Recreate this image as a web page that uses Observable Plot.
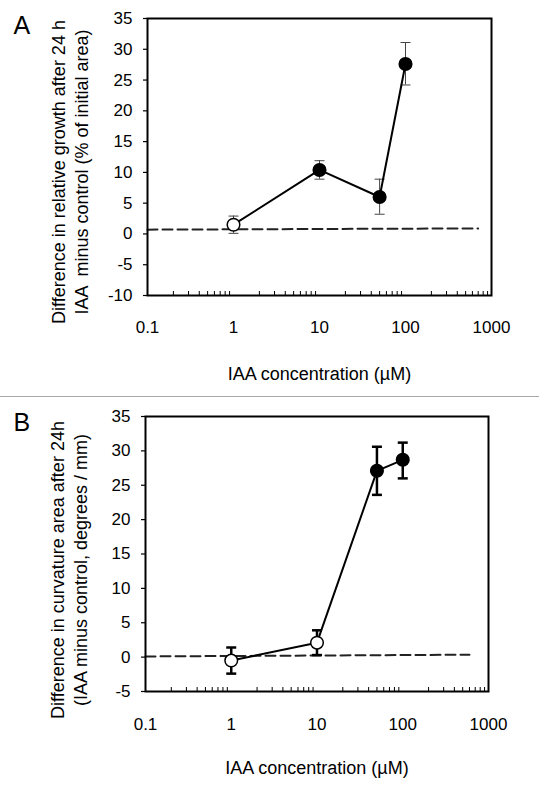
<!DOCTYPE html>
<html>
<head>
<meta charset="utf-8">
<script src="https://cdn.jsdelivr.net/npm/d3@7"></script>
<script src="https://cdn.jsdelivr.net/npm/@observablehq/plot@0.6"></script>
<style>
  html, body { margin: 0; padding: 0; background: #fff; }
  #wrap { position: relative; width: 539px; height: 792px; overflow: hidden; font-family: "Liberation Sans", Arial, sans-serif; }
  #sep { position: absolute; left: 0; top: 396px; width: 539px; height: 0; border-top: 1px solid #a8a8a8; }
  #panelA { position: absolute; left: 0; top: 0; }
  #panelB { position: absolute; left: 0; top: 397px; }
</style>
</head>
<body>
<div id="wrap">
  <div id="panelA"></div>
  <div id="sep"></div>
  <div id="panelB"></div>
</div>
<script>
// ---------- data ----------
const xTicks = [0.1, 1, 10, 100, 1000];
const xTickLabels = ["0.1", "1", "10", "100", "1000"];
const minorTicks = [0.2,0.3,0.4,0.5,0.6,0.7,0.8,0.9, 2,3,4,5,6,7,8,9, 20,30,40,50,60,70,80,90, 200,300,400,500,600,700,800,900];
const xTitle = "IAA concentration (µM)";

// Panel A
const concA = [1, 10, 50, 100];
const growthA = [1.5, 10.4, 6.0, 27.6];
const growthLowA = [0.1, 8.9, 3.2, 24.2];
const growthHighA = [2.9, 11.9, 8.9, 31.1];
const filledA = [false, true, true, true];
const dashXA = [0.1, 700];
const dashYA = [0.7, 0.9];
const yTicksA = [-10, -5, 0, 5, 10, 15, 20, 25, 30, 35];
const yTitleA = "Difference in relative growth after 24 h\nIAA  minus control (% of initial area)";

// Panel B
const concB = [1, 10, 50, 100];
const curvB = [-0.5, 2.1, 27.1, 28.7];
const curvLowB = [-2.4, 0.3, 23.6, 26.0];
const curvHighB = [1.4, 3.9, 30.6, 31.2];
const filledB = [false, false, true, true];
const dashXB = [0.1, 600];
const dashYB = [0.1, 0.35];
const yTicksB = [-5, 0, 5, 10, 15, 20, 25, 30, 35];
const yTitleB = "Difference in curvature area after 24h\n(IAA minus control, degrees / mm)";

// ---------- drawing ----------
const capSymbol = { draw(ctx) { ctx.moveTo(-5, 0); ctx.lineTo(5, 0); } };

function panel(o) {
  const pts = o.x.map((x, i) => ({x, y: o.y[i], lo: o.lo[i], hi: o.hi[i], filled: o.filled[i]}));
  const dash = o.dashX.map((x, i) => ({x, y: o.dashY[i]}));
  return Plot.plot({
    width: 539,
    height: o.height,
    marginLeft: o.ml, marginRight: o.mr, marginTop: o.mt, marginBottom: o.mb,
    style: { fontFamily: '"Liberation Sans", Arial, sans-serif', fontSize: "17px", color: "#000", background: "#fff", overflow: "visible" },
    x: { type: "log", domain: [0.1, 1000] },
    y: { domain: o.yDomain },
    marks: [
      Plot.axisY({ ticks: o.yTicks, tickFormat: d => String(d), tickSize: 4, tickPadding: 11, fontSize: 17, label: null, strokeWidth: 1.2 }),
      Plot.axisX({ ticks: xTicks, tickFormat: (d) => xTickLabels[xTicks.indexOf(d)], tickSize: 0, tickPadding: o.xPad, fontSize: 17, label: null }),
      Plot.axisX({ ticks: minorTicks, tickFormat: () => "", tickSize: -4, label: null, strokeWidth: 1 }),
      Plot.line(dash, { x: "x", y: "y", stroke: "#222", strokeWidth: 2, strokeDasharray: "10,5" }),
      Plot.ruleX(pts, { x: "x", y1: "lo", y2: "hi", stroke: o.errColor, strokeWidth: o.errWidth }),
      Plot.dot(pts, { x: "x", y: "lo", symbol: capSymbol, fill: "none", stroke: o.errColor, strokeWidth: o.errWidth }),
      Plot.dot(pts, { x: "x", y: "hi", symbol: capSymbol, fill: "none", stroke: o.errColor, strokeWidth: o.errWidth }),
      Plot.line(pts, { x: "x", y: "y", stroke: "#000", strokeWidth: 2 }),
      Plot.dot(pts, { x: "x", y: "y", r: 6.3, fill: d => d.filled ? "#000" : "#fff", stroke: "#000", strokeWidth: 1.5 }),
      Plot.frame({ stroke: "#000", strokeWidth: 2 }),
      Plot.text([o.yTitle], { text: d => d, frameAnchor: "left", rotate: -90, dx: o.titleDx, dy: o.titleDy, lineHeight: 1.28, fontSize: 18, textAnchor: "middle", lineAnchor: "middle", fill: "#000" }),
      Plot.text([xTitle], { text: d => d, frameAnchor: "bottom", dy: o.xTitleDy, fontSize: 18, lineAnchor: "middle", fill: "#000" }),
      Plot.text([o.letter], { text: d => d, frameAnchor: "top-left", textAnchor: "start", lineAnchor: "top", dx: o.letterDx, dy: o.letterDy, fontSize: 25, fill: "#000" })
    ]
  });
}

document.getElementById("panelA").appendChild(panel({
  height: 396, ml: 147, mr: 48, mt: 18, mb: 101,
  x: concA, y: growthA, lo: growthLowA, hi: growthHighA, filled: filledA,
  dashX: dashXA, dashY: dashYA, yDomain: [-10, 35], yTicks: yTicksA,
  yTitle: yTitleA, titleDx: -78.5, titleDy: 15, xTitleDy: 79, xPad: 25,
  errColor: "#444", errWidth: 1,
  letter: "A", letterDx: -134, letterDy: -2
}));

document.getElementById("panelB").appendChild(panel({
  height: 395, ml: 145, mr: 51, mt: 19, mb: 101,
  x: concB, y: curvB, lo: curvLowB, hi: curvHighB, filled: filledB,
  dashX: dashXB, dashY: dashYB, yDomain: [-5, 35], yTicks: yTicksB,
  yTitle: yTitleB, titleDx: -77, titleDy: 16, xTitleDy: 77, xPad: 26,
  errColor: "#000", errWidth: 2.5,
  letter: "B", letterDx: -132, letterDy: -3
}));
</script>
</body>
</html>
